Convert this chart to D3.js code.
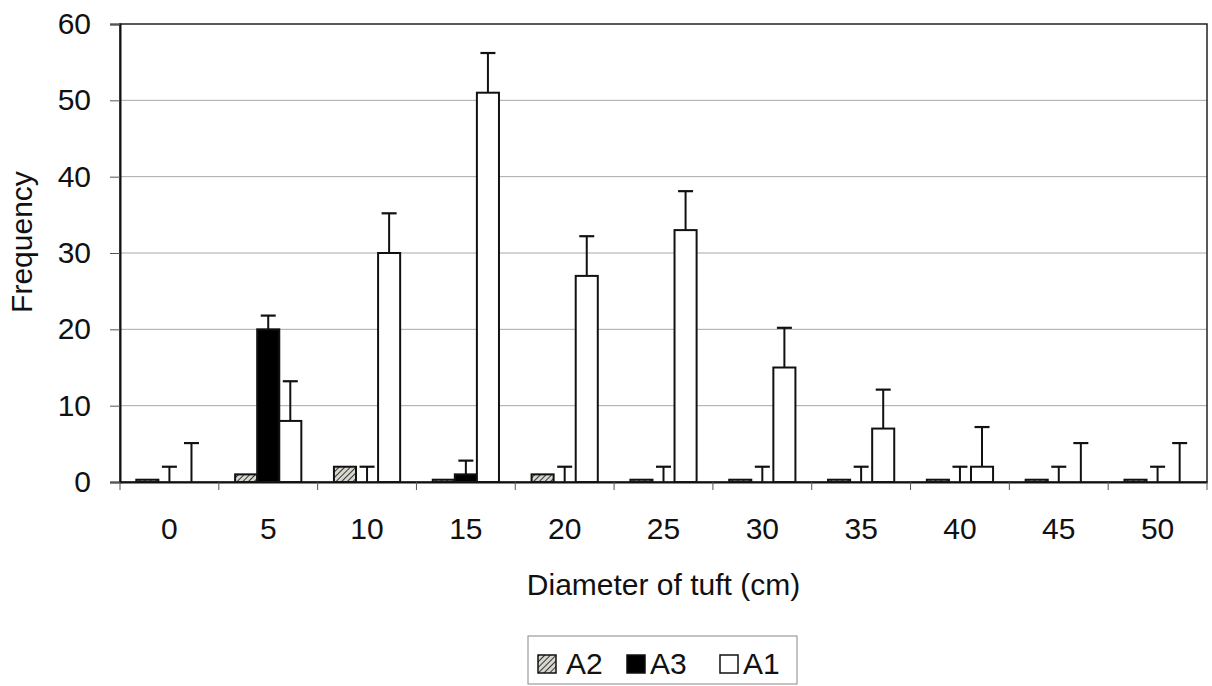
<!DOCTYPE html>
<html>
<head>
<meta charset="utf-8">
<script src="https://cdn.jsdelivr.net/npm/d3@7"></script>
<style>
  body { margin: 0; background: #fff; }
  text { font-family: "Liberation Sans", Arial, sans-serif; fill: #111; }
</style>
</head>
<body>
<div id="canvas"></div>
<script>
// DATA
const categories = ["0", "5", "10", "15", "20", "25", "30", "35", "40", "45", "50"];
const seriesNames = ["A2", "A3", "A1"];
const a2 = [0.3, 1, 2, 0.3, 1, 0.3, 0.3, 0.3, 0.3, 0.3, 0.3];
const a3 = [0, 20, 0, 1, 0, 0, 0, 0, 0, 0, 0];
const a1 = [0, 8, 30, 51, 27, 33, 15, 7, 2, 0, 0];
const a3Err = [2, 1.8, 2, 1.8, 2, 2, 2, 2, 2, 2, 2];
const a1Err = [5.1, 5.2, 5.2, 5.2, 5.2, 5.1, 5.2, 5.1, 5.2, 5.1, 5.1];
const yTicks = [0, 10, 20, 30, 40, 50, 60];

function drawGraph() {
  // DIMENSIONS
  const width = 1212;
  const height = 686;
  const margin = { top: 24, right: 5, bottom: 204, left: 120 };
  const plot_width = width - margin.left - margin.right;
  const plot_height = height - margin.top - margin.bottom;

  const canvas = d3.select("#canvas")
    .append("svg")
    .attr("width", width)
    .attr("height", height)
    .style("background", "#fff");

  // HATCH PATTERN
  const defs = canvas.append("defs");
  const pat = defs.append("pattern")
    .attr("id", "hatch")
    .attr("patternUnits", "userSpaceOnUse")
    .attr("width", 4)
    .attr("height", 4)
    .attr("patternTransform", "rotate(45)");
  pat.append("rect").attr("width", 4).attr("height", 4).attr("fill", "#d8d8d0");
  pat.append("line").attr("x1", 0).attr("y1", 0).attr("x2", 0).attr("y2", 4)
    .attr("stroke", "#333").attr("stroke-width", 2);

  const plot = canvas.append("g")
    .attr("transform", `translate(${margin.left}, ${margin.top})`);

  // SCALES
  const xScale = d3.scaleBand().domain(categories).range([0, plot_width]);
  const bw = xScale.bandwidth();
  const groupW = bw * 0.67;
  const xSub = d3.scaleBand().domain(seriesNames)
    .range([(bw - groupW) / 2, (bw + groupW) / 2]);
  const yScale = d3.scaleLinear().domain([0, 60]).range([plot_height, 0]);

  const fills = { A2: "url(#hatch)", A3: "#000", A1: "#fff" };

  // GRID
  plot.append("g")
    .selectAll("line")
    .data(yTicks.filter(d => d > 0 && d < 60))
    .join("line")
    .attr("x1", 0).attr("x2", plot_width)
    .attr("y1", d => yScale(d)).attr("y2", d => yScale(d))
    .attr("stroke", "#a8a8a8").attr("stroke-width", 1);

  // BARS
  const rows = categories.map((c, i) => ({
    cat: c,
    vals: [
      { s: "A2", v: a2[i], e: null },
      { s: "A3", v: a3[i], e: a3Err[i] },
      { s: "A1", v: a1[i], e: a1Err[i] }
    ]
  }));

  const groups = plot.append("g")
    .selectAll("g")
    .data(rows)
    .join("g")
    .attr("transform", d => `translate(${xScale(d.cat)},0)`);

  // error bars (drawn first so bars cover their base)
  groups.selectAll("g.err")
    .data(d => d.vals.filter(v => v.e !== null))
    .join("g")
    .attr("class", "err")
    .each(function (d) {
      const cx = xSub(d.s) + xSub.bandwidth() / 2;
      const g = d3.select(this);
      g.append("line")
        .attr("x1", cx).attr("x2", cx)
        .attr("y1", yScale(d.v)).attr("y2", yScale(d.v + d.e))
        .attr("stroke", "#111").attr("stroke-width", 2);
      g.append("line")
        .attr("x1", cx - 7.5).attr("x2", cx + 7.5)
        .attr("y1", yScale(d.v + d.e)).attr("y2", yScale(d.v + d.e))
        .attr("stroke", "#111").attr("stroke-width", 2.2);
    });

  groups.selectAll("rect")
    .data(d => d.vals.filter(v => v.v > 0))
    .join("rect")
    .attr("x", d => xSub(d.s))
    .attr("width", xSub.bandwidth())
    .attr("y", d => yScale(d.v))
    .attr("height", d => plot_height - yScale(d.v))
    .attr("fill", d => fills[d.s])
    .attr("stroke", "#111")
    .attr("stroke-width", 2);

  // FRAME
  plot.append("rect")
    .attr("width", plot_width).attr("height", plot_height)
    .attr("fill", "none").attr("stroke", "#222").attr("stroke-width", 1.5);

  // AXES
  const yAx = d3.axisLeft(yScale).tickValues(yTicks).tickSize(10).tickPadding(19);
  const yAxisHolder = plot.append("g").call(yAx);
  yAxisHolder.select(".domain").attr("stroke", "#111").attr("stroke-width", 2);
  yAxisHolder.selectAll(".tick line").attr("stroke", "#555");
  yAxisHolder.selectAll("text").style("font-size", "30px").attr("fill", "#111");

  const xAx = d3.axisBottom(xScale).tickSize(0).tickPadding(36);
  const xAxisHolder = plot.append("g")
    .attr("transform", `translate(0, ${plot_height})`)
    .call(xAx);
  xAxisHolder.select(".domain").attr("stroke", "#111").attr("stroke-width", 2);
  xAxisHolder.selectAll("text").style("font-size", "30px").attr("fill", "#111");

  // boundary ticks between categories
  plot.append("g")
    .selectAll("line")
    .data(categories.concat(["end"]))
    .join("line")
    .attr("x1", d => d === "end" ? plot_width : xScale(d))
    .attr("x2", d => d === "end" ? plot_width : xScale(d))
    .attr("y1", plot_height).attr("y2", plot_height + 8)
    .attr("stroke", "#555").attr("stroke-width", 1);

  // LABELS
  canvas.append("text")
    .attr("x", margin.left + plot_width / 2)
    .attr("y", 595)
    .attr("text-anchor", "middle")
    .style("font-size", "30px")
    .text("Diameter of tuft (cm)");

  canvas.append("text")
    .attr("transform", "translate(32, 242) rotate(-90)")
    .attr("text-anchor", "middle")
    .style("font-size", "30px")
    .text("Frequency");

  // LEGEND
  const legend = canvas.append("g");
  legend.append("rect")
    .attr("x", 528).attr("y", 636)
    .attr("width", 269).attr("height", 48)
    .attr("fill", "#fff").attr("stroke", "#888").attr("stroke-width", 1);

  const legendItems = [
    { s: "A2", sx: 538, tx: 566 },
    { s: "A3", sx: 627, tx: 650 },
    { s: "A1", sx: 720, tx: 743 }
  ];
  legendItems.forEach(it => {
    legend.append("rect")
      .attr("x", it.sx).attr("y", 655)
      .attr("width", 18).attr("height", 18)
      .attr("fill", fills[it.s])
      .attr("stroke", "#111").attr("stroke-width", 1.5);
    legend.append("text")
      .attr("x", it.tx).attr("y", 674)
      .style("font-size", "30px")
      .text(it.s);
  });
}

drawGraph();
</script>
</body>
</html>
